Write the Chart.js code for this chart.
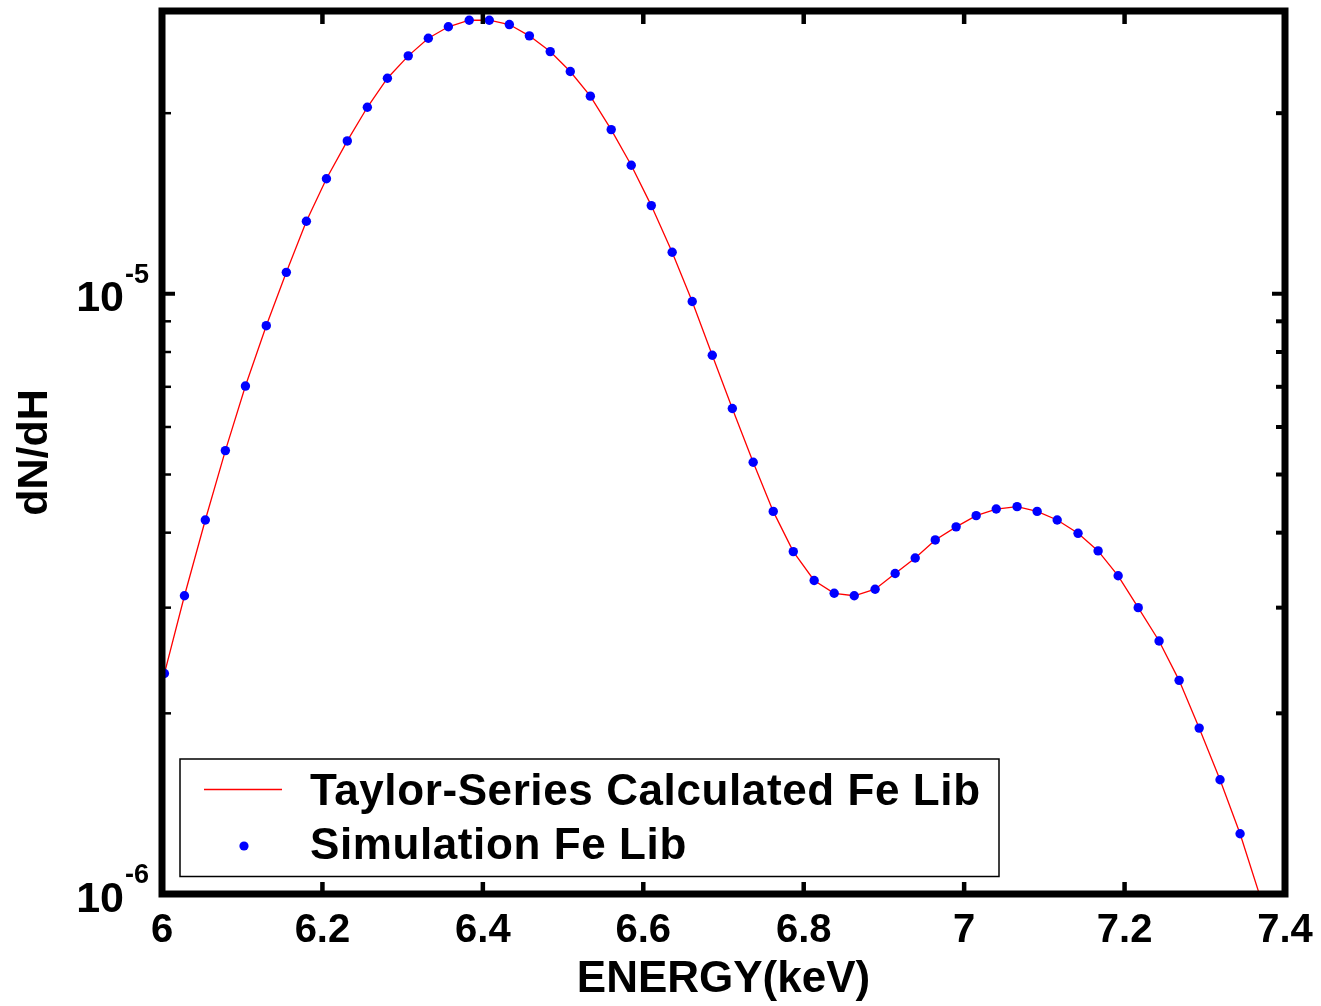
<!DOCTYPE html>
<html>
<head>
<meta charset="utf-8">
<script src="https://cdn.jsdelivr.net/npm/chart.js@4/dist/chart.umd.min.js"></script>
<style>
  html, body { margin: 0; padding: 0; background: #fff; }
  #wrap { width: 1321px; height: 1006px; }
</style>
</head>
<body>
<div id="wrap"><canvas id="chart" width="1321" height="1006"></canvas></div>
<script>
// energies (keV) of the simulated points
const simEnergy = [6.003, 6.028, 6.054, 6.079, 6.104, 6.130, 6.155, 6.180, 6.205, 6.231,
  6.256, 6.281, 6.307, 6.332, 6.357, 6.383, 6.408, 6.433, 6.458, 6.484,
  6.509, 6.534, 6.560, 6.585, 6.610, 6.636, 6.661, 6.686, 6.711, 6.737,
  6.762, 6.787, 6.813, 6.838, 6.863, 6.889, 6.914, 6.939, 6.964, 6.990,
  7.015, 7.040, 7.066, 7.091, 7.116, 7.142, 7.167, 7.192, 7.217, 7.243,
  7.268, 7.293, 7.319, 7.344];

// dN/dH of the simulation
const simValues = [2.33e-6, 3.14e-6, 4.20e-6, 5.48e-6, 7.02e-6, 8.85e-6, 1.086e-5, 1.321e-5, 1.555e-5, 1.798e-5,
  2.046e-5, 2.287e-5, 2.492e-5, 2.666e-5, 2.786e-5, 2.857e-5, 2.857e-5, 2.810e-5, 2.691e-5, 2.533e-5,
  2.347e-5, 2.135e-5, 1.878e-5, 1.638e-5, 1.403e-5, 1.173e-5, 9.71e-6, 7.90e-6, 6.44e-6, 5.24e-6,
  4.34e-6, 3.72e-6, 3.33e-6, 3.17e-6, 3.14e-6, 3.22e-6, 3.42e-6, 3.63e-6, 3.89e-6, 4.09e-6,
  4.27e-6, 4.38e-6, 4.42e-6, 4.34e-6, 4.20e-6, 3.99e-6, 3.73e-6, 3.39e-6, 3.00e-6, 2.64e-6,
  2.27e-6, 1.89e-6, 1.55e-6, 1.26e-6];

// Taylor-series curve, runs a step past both ends of the simulation
const taylorEnergy = [5.978, ...simEnergy, 7.369];
const taylorValues = [1.70e-6, ...simValues, 9.9e-7];

const xTicks = [6, 6.2, 6.4, 6.6, 6.8, 7, 7.2, 7.4];
const xTickLabels = ['6', '6.2', '6.4', '6.6', '6.8', '7', '7.2', '7.4'];
const yMajorTicks = [1e-6, 1e-5];
const yMajorExp = ['-6', '-5'];
const yMinorTicks = [2e-6, 3e-6, 4e-6, 5e-6, 6e-6, 7e-6, 8e-6, 9e-6, 2e-5];

const legendLabels = ['Taylor-Series Calculated Fe Lib', 'Simulation Fe Lib'];

const FONT = '"Liberation Sans", Arial, Helvetica, sans-serif';

const framePlugin = {
  id: 'frame',
  afterDatasetsDraw(chart) {
    const ctx = chart.ctx;
    const a = chart.chartArea;
    const xs = chart.scales.x, ys = chart.scales.y;
    ctx.save();
    ctx.strokeStyle = '#000';
    ctx.lineCap = 'butt';

    // inward ticks on the x axis, top and bottom
    ctx.lineWidth = 4.5;
    xTicks.slice(1, -1).forEach(v => {
      const px = xs.getPixelForValue(v);
      ctx.beginPath();
      ctx.moveTo(px, a.bottom); ctx.lineTo(px, a.bottom - 12);
      ctx.moveTo(px, a.top); ctx.lineTo(px, a.top + 13);
      ctx.stroke();
    });

    // y ticks left and right
    yMinorTicks.forEach(v => {
      const py = ys.getPixelForValue(v);
      ctx.lineWidth = 2.5;
      ctx.beginPath(); ctx.moveTo(a.left, py); ctx.lineTo(a.left + 9, py); ctx.stroke();
      ctx.lineWidth = 4;
      ctx.beginPath(); ctx.moveTo(a.right, py); ctx.lineTo(a.right - 9, py); ctx.stroke();
    });
    yMajorTicks.forEach(v => {
      const py = ys.getPixelForValue(v);
      ctx.lineWidth = 4;
      ctx.beginPath();
      ctx.moveTo(a.left, py); ctx.lineTo(a.left + 13, py);
      ctx.moveTo(a.right, py); ctx.lineTo(a.right - 13, py);
      ctx.stroke();
    });

    // thick box
    ctx.lineWidth = 7;
    ctx.strokeRect(a.left, a.top, a.right - a.left, a.bottom - a.top);

    // y labels 10^n
    ctx.fillStyle = '#000';
    yMajorTicks.forEach((v, i) => {
      const py = ys.getPixelForValue(v);
      ctx.font = 'bold 43px ' + FONT;
      ctx.textAlign = 'right';
      ctx.textBaseline = 'alphabetic';
      ctx.fillText('10', 124, py + 17.5);
      ctx.font = 'bold 27px ' + FONT;
      ctx.textAlign = 'left';
      ctx.fillText(yMajorExp[i], 125, py - 11);
    });

    // legend
    const lx = 180, ly = 759, lw = 819, lh = 117.5;
    ctx.fillStyle = '#fff';
    ctx.fillRect(lx, ly, lw, lh);
    ctx.lineWidth = 1.5;
    ctx.strokeStyle = '#000';
    ctx.strokeRect(lx, ly, lw, lh);
    const ds = chart.data.datasets;
    ctx.strokeStyle = ds[0].borderColor;
    ctx.lineWidth = 1.3;
    ctx.beginPath(); ctx.moveTo(204, 789.5); ctx.lineTo(282, 789.5); ctx.stroke();
    ctx.fillStyle = ds[1].backgroundColor;
    ctx.beginPath(); ctx.arc(244, 846, 4.6, 0, Math.PI * 2); ctx.fill();
    ctx.fillStyle = '#000';
    ctx.font = 'bold 44px ' + FONT;
    ctx.letterSpacing = '0.6px';
    ctx.textAlign = 'left';
    ctx.textBaseline = 'alphabetic';
    ctx.fillText(legendLabels[0], 310, 805);
    ctx.fillText(legendLabels[1], 310, 859);
    ctx.restore();
  }
};

new Chart(document.getElementById('chart'), {
  type: 'scatter',
  data: {
    datasets: [
      {
        label: legendLabels[0],
        data: taylorEnergy.map((x, i) => ({ x: x, y: taylorValues[i] })),
        showLine: true,
        borderColor: '#ff0000',
        borderWidth: 1.3,
        pointRadius: 0,
        tension: 0,
        order: 2
      },
      {
        label: legendLabels[1],
        data: simEnergy.map((x, i) => ({ x: x, y: simValues[i] })),
        showLine: false,
        pointRadius: 4.7,
        pointBorderWidth: 0,
        backgroundColor: '#0000ff',
        borderColor: '#0000ff',
        order: 1
      }
    ]
  },
  options: {
    responsive: false,
    animation: false,
    devicePixelRatio: 1,
    layout: { padding: { top: 11, right: 36, left: 0, bottom: 0 } },
    plugins: { legend: { display: false }, tooltip: { enabled: false } },
    scales: {
      x: {
        type: 'linear',
        min: 6,
        max: 7.4,
        afterBuildTicks: s => { s.ticks = xTicks.map(v => ({ value: v })); },
        afterFit: s => { s.height = 112; s.paddingLeft = 0; s.paddingRight = 0; },
        ticks: {
          autoSkip: false,
          maxRotation: 0,
          padding: 13,
          color: '#000',
          font: { family: FONT, size: 40, weight: 'bold' },
          callback: (v, i) => xTickLabels[i]
        },
        grid: { display: false, drawTicks: false },
        border: { display: false },
        title: {
          display: true,
          text: 'ENERGY(keV)',
          color: '#000',
          font: { family: FONT, size: 44, weight: 'bold', lineHeight: 1.2 },
          padding: { top: 0, bottom: 0 }
        }
      },
      y: {
        type: 'logarithmic',
        min: 1e-6,
        max: 2.96e-5,
        afterFit: s => { s.width = 162; s.paddingTop = 0; s.paddingBottom = 0; },
        ticks: { display: false },
        grid: { display: false, drawTicks: false },
        border: { display: false },
        title: {
          display: true,
          text: 'dN/dH',
          color: '#000',
          font: { family: FONT, size: 43, weight: 'bold', lineHeight: 1.2 },
          padding: { top: 9, bottom: 0 }
        }
      }
    }
  },
  plugins: [framePlugin]
});
</script>
</body>
</html>
